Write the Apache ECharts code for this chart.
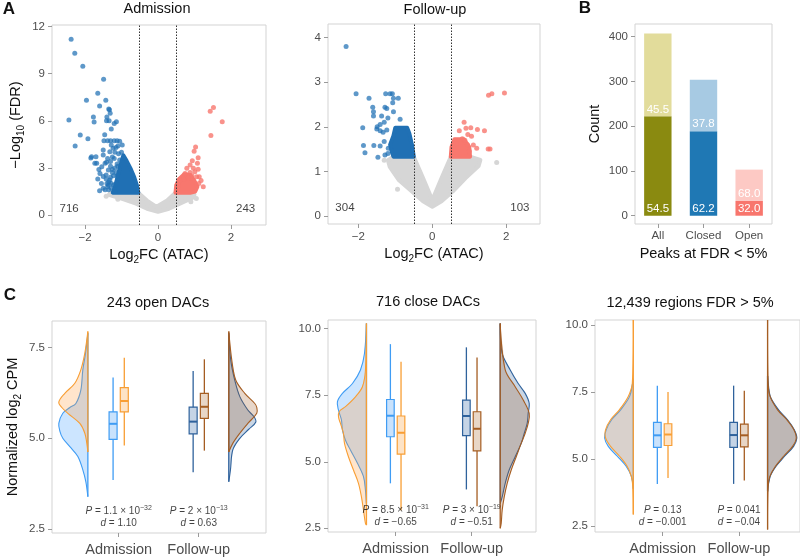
<!DOCTYPE html>
<html>
<head>
<meta charset="utf-8">
<script src="https://cdn.jsdelivr.net/npm/echarts@6.0.0/dist/echarts.min.js"></script>
<style>html,body{margin:0;padding:0;background:#fff;}#chart{width:800px;height:558px;}</style>
</head>
<body>
<div id="chart"></div>
<script>
// ================= DATA =================
// Panel A – volcano plots
const volcanoTitles = ['Admission', 'Follow-up'];
const fcThresholds = [-0.5, 0.5];
const volcanoCounts = [[716, 243], [304, 103]];

// Admission: non-significant cloud outline, dense cores and individual points (log2FC, -log10 FDR)
const admNsCloud = [[-1.3,1.42],[-0.54,1.42],[-0.3,0.92],[-0.04,0.52],[0.25,0.92],[0.48,1.42],[0.88,1.42],[1.0,1.3],[0.97,1.12],[0.6,0.72],[0.3,0.4],[0.0,0.2],[-0.3,0.4],[-0.6,0.72],[-1.0,1.05],[-1.35,1.28]];
const admNsPts = [[-1.42,1.2],[1.05,1.05],[-1.1,1.0],[0.9,0.85]];
const admDownCore = [[-0.54,1.42],[-0.58,1.9],[-0.65,2.4],[-0.74,2.9],[-0.86,3.45],[-0.95,3.8],[-1.0,3.4],[-1.06,2.9],[-1.12,2.3],[-1.18,1.8],[-1.24,1.42]];
const admDownPts = [[-2.38,11.19],[-2.28,10.3],[-2.06,9.47],[-1.49,8.64],[-1.65,7.75],[-1.96,7.3],[-1.43,7.3],[-1.6,6.94],[-1.35,6.75],[-1.33,6.7],[-1.31,6.48],[-1.77,6.24],[-1.4,6.24],[-1.75,5.92],[-1.41,6.0],[-1.34,6.0],[-1.14,5.94],[-1.2,5.82],[-2.44,6.05],[-2.13,5.1],[-1.46,5.11],[-1.28,5.48],[-1.92,4.86],[-1.48,4.73],[-1.38,4.73],[-1.3,4.73],[-1.2,4.73],[-1.12,4.73],[-1.05,4.7],[-2.27,4.39],[-1.5,4.14],[-1.32,4.03],[-1.23,4.25],[-1.15,4.3],[-1.82,3.71],[-1.7,3.71],[-1.84,3.63],[-1.5,3.82],[-1.68,3.29],[-1.73,3.29],[-1.45,3.29],[-1.41,3.36],[-1.3,3.4],[-1.2,3.6],[-1.54,3.08],[-1.36,2.87],[-1.59,2.65],[-1.42,2.55],[-1.25,2.9],[-1.32,2.23],[-1.22,2.5],[-1.15,2.7],[-1.4,2.0],[-1.36,1.91],[-1.22,1.91],[-1.28,1.7],[-1.18,1.49],[-1.45,1.6],[-1.1,3.1],[-1.0,4.0],[-1.08,3.9],[-1.05,3.5],[-1.12,3.25],[-1.18,3.0],[-1.25,2.7],[-1.3,2.4],[-1.35,2.1],[-1.38,1.8],[-1.5,1.7],[-1.55,2.0],[-1.6,1.55],[-1.65,2.3],[-1.3,3.1],[-1.25,3.7],[-1.18,4.0],[-1.1,4.4],[-1.12,2.5],[-1.28,2.0],[-1.35,1.6],[-1.42,2.3],[-1.5,2.45],[-1.62,2.9],[-1.38,3.6],[-1.28,4.45],[-0.98,4.45]];
const admUpCore = [[0.48,1.42],[0.5,1.9],[0.58,2.3],[0.72,2.6],[0.88,2.55],[0.98,2.25],[1.08,1.8],[1.02,1.5],[0.88,1.42]];
const admUpPts = [[1.52,6.84],[1.43,6.6],[1.76,5.94],[1.45,5.07],[1.03,4.33],[0.99,4.06],[1.1,3.65],[0.94,3.46],[1.08,3.29],[0.88,3.18],[0.97,2.97],[0.79,2.97],[1.1,2.91],[1.01,2.76],[0.88,2.7],[0.74,2.65],[1.06,2.44],[1.13,2.44],[0.93,2.5],[0.83,2.35],[0.7,2.3],[1.18,2.2],[1.24,1.8],[0.6,2.2],[1.12,2.0],[0.55,1.9]];

// Follow-up
const fuNsCloud = [[-1.05,1.33],[-0.5,1.33],[-0.25,0.85],[0.0,0.36],[0.25,0.85],[0.5,1.33],[1.02,1.33],[1.3,1.26],[1.25,1.12],[0.9,0.85],[0.55,0.55],[0.25,0.33],[0.0,0.21],[-0.25,0.33],[-0.55,0.55],[-0.9,0.8],[-1.15,1.1],[-1.2,1.25]];
const fuNsPts = [[-0.94,0.6],[1.74,1.2],[-1.3,1.25]];
const fuDownCore = [[-0.5,1.33],[-0.55,1.6],[-0.62,1.85],[-0.68,1.98],[-1.0,1.98],[-1.05,1.8],[-1.14,1.6],[-1.1,1.45],[-1.05,1.33]];
const fuDownPts = [[-2.33,3.8],[-2.06,2.74],[-1.71,2.64],[-1.26,2.74],[-1.14,2.74],[-1.08,2.74],[-0.92,2.64],[-1.05,2.64],[-1.61,2.44],[-1.28,2.44],[-1.23,2.41],[-1.07,2.54],[-1.59,2.34],[-1.05,2.34],[-1.59,2.24],[-1.37,2.24],[-1.2,2.2],[-0.87,2.17],[-1.49,2.0],[-1.41,2.05],[-1.23,1.93],[-1.3,2.1],[-1.88,1.98],[-1.41,1.91],[-1.5,1.95],[-1.33,1.88],[-1.86,1.58],[-1.82,1.42],[-1.58,1.58],[-1.41,1.57],[-1.3,1.67],[-1.19,1.52],[-1.47,1.32],[-1.28,1.37],[-1.2,1.4]];
const fuUpCore = [[0.5,1.33],[0.52,1.55],[0.6,1.72],[0.85,1.72],[1.0,1.55],[1.02,1.33]];
const fuUpPts = [[1.52,2.71],[1.61,2.74],[1.95,2.76],[0.86,2.1],[0.73,1.91],[0.91,1.97],[1.04,1.98],[1.22,1.94],[1.41,1.91],[0.96,1.83],[1.06,1.79],[0.81,1.73],[0.88,1.7],[1.11,1.59],[1.2,1.52],[1.51,1.5],[1.56,1.5],[0.65,1.62],[0.95,1.6],[1.0,1.45]];

// Panel B – stacked bars
const peakCategories = ['All', 'Closed', 'Open'];
const peakLowerCounts = [222, 189, 33];
const peakUpperCounts = [185, 115, 70];
const peakLowerPct = ['54.5', '62.2', '32.0'];
const peakUpperPct = ['45.5', '37.8', '68.0'];

// Panel C – half violins ([log2 CPM, half width]) and boxes ([min, q1, median, q3, max])
const panelCTitles = ['243 open DACs', '716 close DACs', '12,439 regions FDR > 5%'];
const timepoints = ['Admission', 'Follow-up'];

const openAdmBlueViolin = [[3.39,0],[3.8,.025],[4.13,.063],[4.5,.125],[4.77,.225],[5.0,.313],[5.2,.35],[5.41,.363],[5.69,.313],[5.85,.225],[5.96,.15],[6.33,.088],[6.89,.063],[7.35,.029],[7.9,0]];
const openAdmOrangeViolin = [[4.62,0],[4.86,.013],[5.14,.038],[5.41,.1],[5.69,.25],[5.85,.325],[6.0,.363],[6.24,.288],[6.52,.163],[6.89,.088],[7.35,.038],[7.95,0]];
const openFuBlueViolin = [[3.8,0],[4.13,.021],[4.68,.05],[5.0,.138],[5.25,.25],[5.45,.338],[5.6,.313],[5.78,.238],[6.15,.138],[6.6,.075],[7.15,.025],[7.9,0]];
const openFuBrownViolin = [[4.62,0],[4.86,.05],[5.14,.138],[5.41,.238],[5.69,.35],[5.85,.35],[5.96,.325],[6.24,.2],[6.6,.088],[7.15,.038],[7.95,0]];

const closeAdmBlueViolin = [[3.43,0],[3.93,.013],[4.44,.039],[4.94,.118],[5.44,.211],[5.81,.276],[6.19,.316],[6.57,.329],[6.94,.368],[7.26,.382],[7.57,.316],[7.94,.184],[8.45,.079],[9.07,.026],[10.2,0]];
const closeAdmOrangeViolin = [[2.62,0],[2.68,.013],[3.18,.039],[3.68,.066],[4.19,.105],[4.69,.171],[5.19,.237],[5.69,.289],[6.07,.303],[6.44,.342],[6.69,.368],[6.9,.355],[7.07,.276],[7.44,.145],[7.82,.053],[8.45,.013],[10.2,0]];
const closeFuBlueViolin = [[3.43,0],[3.68,.026],[4.19,.066],[4.69,.118],[5.19,.197],[5.69,.276],[6.07,.316],[6.44,.355],[6.82,.368],[7.19,.382],[7.57,.329],[7.94,.237],[8.45,.132],[9.07,.026],[10.2,0]];
const closeFuBrownViolin = [[2.5,0],[2.68,.013],[3.18,.026],[3.68,.053],[4.19,.092],[4.69,.145],[5.19,.211],[5.69,.276],[6.07,.329],[6.44,.368],[6.82,.382],[7.32,.303],[7.82,.197],[8.45,.066],[10.2,0]];

const nsAdmBlueViolin = [[3.9,0],[4.36,.026],[4.73,.092],[5.11,.21],[5.48,.328],[5.79,.376],[6.10,.354],[6.47,.284],[6.84,.166],[7.34,.048],[7.83,.009],[8.0,0]];
const nsAdmOrangeViolin = [[2.94,0],[3.99,.007],[4.36,.026],[4.73,.079],[5.11,.18],[5.48,.298],[5.79,.363],[6.10,.363],[6.47,.298],[6.84,.183],[7.34,.066],[7.83,.013],[10.19,0]];
const nsFuBlueViolin = [[3.8,0],[4.36,.035],[4.73,.109],[5.11,.223],[5.48,.341],[5.79,.384],[6.10,.35],[6.47,.262],[6.84,.144],[7.34,.035],[7.83,.009],[8.1,0]];
const nsFuBrownViolin = [[2.38,0],[3.99,.007],[4.36,.03],[4.73,.101],[5.11,.21],[5.48,.328],[5.79,.376],[6.10,.345],[6.47,.253],[6.84,.131],[7.34,.033],[7.83,.007],[10.19,0]];

const openAdmBlueBox = [3.85, 4.97, 5.40, 5.73, 6.68];
const openAdmOrangeBox = [4.80, 5.73, 6.03, 6.40, 7.22];
const openFuBlueBox = [4.06, 5.12, 5.46, 5.86, 6.86];
const openFuBrownBox = [4.66, 5.55, 5.87, 6.24, 7.18];
const closeAdmBlueBox = [4.19, 5.94, 6.73, 7.34, 9.42];
const closeAdmOrangeBox = [3.18, 5.29, 6.09, 6.72, 8.76];
const closeFuBlueBox = [3.96, 5.98, 6.72, 7.32, 9.30];
const closeFuBrownBox = [3.33, 5.41, 6.24, 6.88, 8.92];
const nsAdmBlueBox = [4.08, 5.44, 5.89, 6.37, 7.74];
const nsAdmOrangeBox = [4.30, 5.51, 5.92, 6.32, 7.50];
const nsFuBlueBox = [4.08, 5.44, 5.90, 6.37, 7.74];
const nsFuBrownBox = [4.21, 5.46, 5.89, 6.31, 7.55];

// test statistics: [P mantissa text, P exponent, Cohen's d]
const openStats = [['1.1 × 10', '−32', '1.10'], ['2 × 10', '−13', '0.63']];
const closeStats = [['8.5 × 10', '−31', '−0.65'], ['3 × 10', '−19', '−0.51']];
const nsStats = [['0.13', '', '−0.001'], ['0.041', '', '−0.04']];

// ================= STYLE / LAYOUT =================
const FONT = '"Liberation Sans", Arial, Helvetica, sans-serif';
const TICK = '#9a9a9a', LAB = '#4d4d4d', BORDER = '#d3d3d3', INK = '#111111';
const C_NS = '#d6d6d6', C_DOWN = '#2070b4', C_UP = '#f8776e';
const COL = {
  admBlue:  {stroke: '#3f9cf4', fill: 'rgba(51,153,255,0.25)', box: '#c9e2fc'},
  admOrange:{stroke: '#f89e34', fill: 'rgba(255,153,51,0.25)', box: '#fde3c6'},
  fuBlue:   {stroke: '#2f629c', fill: 'rgba(40,90,150,0.25)', box: '#c5d4e6'},
  fuBrown:  {stroke: '#a55d22', fill: 'rgba(160,90,40,0.25)', box: '#e8d6c6'}
};
const barLowerColors = ['#8a8a10', '#1f78b4', '#f8766d'];
const barUpperColors = ['#e2dc9b', '#a7cae3', '#fdc9c4'];
const VIOLIN_EDGE = [0.615, 2.375];
const BOX_OFF = 0.07, BOX_W = 0.1;

const gridBase = {show: true, borderColor: BORDER, borderWidth: 1, backgroundColor: '#fff', containLabel: false, outerBoundsMode: 'none'};
const grids = [
  {left: 52, top: 25, width: 214, height: 200},
  {left: 328, top: 24, width: 212, height: 200},
  {left: 635, top: 24, width: 137, height: 200},
  {left: 52, top: 321, width: 214, height: 212},
  {left: 328, top: 320, width: 208, height: 212},
  {left: 595, top: 320, width: 205, height: 212}
].map(g => Object.assign({}, gridBase, g));

const xRanges = [[-2.904, 2.959], [-2.819, 2.911], null, [0.167, 2.84], [0.109, 2.846], [0.113, 2.80]];
const yRanges = [[-0.637, 12.10], [-0.179, 4.305], [-18.5, 428.4], [2.387, 8.237], [2.361, 10.327], [2.288, 10.186]];

function minus(v) { return v < 0 ? '\u2212' + Math.abs(v) : String(v); }
const nameStyle = {fontSize: 14.5, color: INK, fontFamily: FONT, lineHeight: 20,
  rich: {s: {fontSize: 10, lineHeight: 10, verticalAlign: 'bottom', color: INK, fontFamily: FONT}}};

function vAxis(gi, range, ticks, fmt, extra) {
  return Object.assign({
    type: 'value', gridIndex: gi, min: range[0], max: range[1],
    splitLine: {show: false}, axisLine: {show: false, onZero: false},
    axisTick: {show: true, length: 4, lineStyle: {color: TICK, width: 1}, customValues: ticks},
    axisLabel: {color: LAB, fontSize: 11.5, fontFamily: FONT, margin: 7, customValues: ticks, formatter: fmt}
  }, extra || {});
}

const xAxes = [
  vAxis(0, xRanges[0], [-2, 0, 2], minus, {name: 'Log{s|2}FC (ATAC)', nameLocation: 'middle', nameGap: 12, nameTextStyle: nameStyle}),
  vAxis(1, xRanges[1], [-2, 0, 2], minus, {name: 'Log{s|2}FC (ATAC)', nameLocation: 'middle', nameGap: 12, nameTextStyle: nameStyle}),
  {type: 'category', gridIndex: 2, data: peakCategories, axisLine: {show: false, onZero: false},
   axisTick: {show: true, alignWithLabel: true, length: 4, lineStyle: {color: TICK}},
   axisLabel: {color: LAB, fontSize: 11.5, fontFamily: FONT, margin: 6, interval: 0, hideOverlap: false},
   name: 'Peaks at FDR < 5%', nameLocation: 'middle', nameGap: 20, nameTextStyle: nameStyle},
  ...[3, 4, 5].map(gi => vAxis(gi, xRanges[gi], [1, 2], v => timepoints[Math.round(v) - 1],
     {axisLabel: {color: LAB, fontSize: 14.5, fontFamily: FONT, margin: 9, customValues: [1, 2], formatter: v => timepoints[Math.round(v) - 1]}}))
];
const fmt1 = v => v.toFixed(1);
const yAxes = [
  vAxis(0, yRanges[0], [0, 3, 6, 9, 12], minus, {name: '\u2212Log{s|10} (FDR)', nameLocation: 'middle', nameGap: 26, nameTextStyle: nameStyle}),
  vAxis(1, yRanges[1], [0, 1, 2, 3, 4], minus),
  vAxis(2, yRanges[2], [0, 100, 200, 300, 400], String, {name: 'Count', nameLocation: 'middle', nameGap: 30, nameTextStyle: nameStyle}),
  vAxis(3, yRanges[3], [2.5, 5, 7.5], fmt1, {name: 'Normalized log{s|2} CPM', nameLocation: 'middle', nameGap: 29, nameTextStyle: nameStyle}),
  vAxis(4, yRanges[4], [2.5, 5, 7.5, 10], fmt1),
  vAxis(5, yRanges[5], [2.5, 5, 7.5, 10], fmt1)
];

// ================= SERIES BUILDERS =================
function polySeries(gi, pts, color) {
  return {type: 'custom', xAxisIndex: gi, yAxisIndex: gi, silent: true, clip: true, data: [pts[0]],
    renderItem: (params, api) => ({type: 'polygon', shape: {points: pts.map(p => api.coord(p))},
      style: {fill: color, stroke: color, lineWidth: 4, lineJoin: 'round'}})};
}
function ptsSeries(gi, pts, color, opacity) {
  return {type: 'scatter', xAxisIndex: gi, yAxisIndex: gi, silent: true, data: pts, symbolSize: 5,
    itemStyle: {color: color, opacity: opacity}};
}
function volcanoSeries(gi, ns, nsPts, downCore, downPts, upCore, upPts, counts) {
  const xr = xRanges[gi], yr = yRanges[gi];
  const w = xr[1] - xr[0], h = yr[1] - yr[0];
  const labelY = yr[0] + 0.08 * h;
  return [
    polySeries(gi, ns, C_NS),
    ptsSeries(gi, nsPts, C_NS, 1),
    polySeries(gi, downCore, C_DOWN),
    ptsSeries(gi, downPts, C_DOWN, 0.72),
    polySeries(gi, upCore, C_UP),
    ptsSeries(gi, upPts, C_UP, 0.8),
    {type: 'scatter', xAxisIndex: gi, yAxisIndex: gi, silent: true, symbolSize: 0,
     itemStyle: {color: 'rgba(0,0,0,0)'},
     data: [[xr[0] + 0.08 * w, labelY, counts[0]], [xr[1] - 0.095 * w, labelY, counts[1]]],
     label: {show: true, position: 'inside', formatter: p => String(p.value[2]), color: INK, fontSize: 11.5, fontFamily: FONT},
     markLine: {silent: true, symbol: 'none', label: {show: false},
       lineStyle: {type: [1.5, 1.5], color: '#333', width: 1},
       data: fcThresholds.map(v => ({xAxis: v}))}}
  ];
}
function violinSeries(gi, edge, dir, vio, c) {
  return {type: 'custom', xAxisIndex: gi, yAxisIndex: gi, silent: true, clip: true, data: [[edge, vio[0][0]]],
    renderItem: (params, api) => {
      const pts = vio.map(p => api.coord([edge + dir * p[1], p[0]]));
      const e0 = api.coord([edge, vio[0][0]]), e1 = api.coord([edge, vio[vio.length - 1][0]]);
      return {type: 'group', children: [
        {type: 'polygon', shape: {points: pts}, style: {fill: c.fill, stroke: 'none'}},
        {type: 'polyline', shape: {points: pts, smooth: 0.35}, style: {stroke: c.stroke, lineWidth: 1.1, fill: 'none'}},
        {type: 'line', shape: {x1: e0[0], y1: e0[1], x2: e1[0], y2: e1[1]}, style: {stroke: c.stroke, lineWidth: 1.3}}
      ]};
    }};
}
function boxSeries(gi, boxes, cols) {
  const xs = [1 - BOX_OFF, 1 + BOX_OFF, 2 - BOX_OFF, 2 + BOX_OFF];
  return {type: 'custom', xAxisIndex: gi, yAxisIndex: gi, silent: true,
    data: boxes.map((b, i) => [xs[i]].concat(b)),
    renderItem: (params, api) => {
      const c = cols[params.dataIndex];
      const x = api.value(0), lo = api.value(1), q1 = api.value(2), md = api.value(3), q3 = api.value(4), hi = api.value(5);
      const pLo = api.coord([x, lo]), pHi = api.coord([x, hi]);
      const a = api.coord([x - BOX_W / 2, q3]), b = api.coord([x + BOX_W / 2, q1]);
      const m1 = api.coord([x - BOX_W / 2, md]), m2 = api.coord([x + BOX_W / 2, md]);
      return {type: 'group', children: [
        {type: 'line', shape: {x1: pLo[0], y1: pLo[1], x2: pHi[0], y2: pHi[1]}, style: {stroke: c.stroke, lineWidth: 1.3}},
        {type: 'rect', shape: {x: a[0], y: a[1], width: b[0] - a[0], height: b[1] - a[1]}, style: {fill: c.box, stroke: c.stroke, lineWidth: 1.2}},
        {type: 'line', shape: {x1: m1[0], y1: m1[1], x2: m2[0], y2: m2[1]}, style: {stroke: c.stroke, lineWidth: 2}}
      ]};
    }};
}
function statSeries(gi, stats) {
  const yr = yRanges[gi];
  const y = yr[0] + 0.075 * (yr[1] - yr[0]);
  return {type: 'scatter', xAxisIndex: gi, yAxisIndex: gi, silent: true, symbolSize: 0,
    itemStyle: {color: 'rgba(0,0,0,0)'},
    data: stats.map((s, i) => [i + 1, y]),
    label: {show: true, position: 'inside', align: 'center',
      formatter: p => {
        const s = stats[p.dataIndex];
        return '{i|P}{t| = ' + s[0] + '}' + (s[1] ? '{s|' + s[1] + '}' : '') + '\n{i|d}{t| = ' + s[2] + '}';
      },
      rich: {
        i: {fontStyle: 'italic', fontSize: 10, lineHeight: 12.5, color: INK, fontFamily: FONT},
        t: {fontSize: 10, lineHeight: 12.5, color: INK, fontFamily: FONT},
        s: {fontSize: 7, lineHeight: 6, verticalAlign: 'top', color: INK, fontFamily: FONT}
      }}};
}
function panelC(gi, v, boxes, stats) {
  return [
    violinSeries(gi, VIOLIN_EDGE[0], -1, v[0], COL.admBlue),
    violinSeries(gi, VIOLIN_EDGE[0], -1, v[1], COL.admOrange),
    violinSeries(gi, VIOLIN_EDGE[1], 1, v[2], COL.fuBlue),
    violinSeries(gi, VIOLIN_EDGE[1], 1, v[3], COL.fuBrown),
    boxSeries(gi, boxes, [COL.admBlue, COL.admOrange, COL.fuBlue, COL.fuBrown]),
    statSeries(gi, stats)
  ];
}

const barSeries = [
  {type: 'bar', xAxisIndex: 2, yAxisIndex: 2, stack: 'peaks', barWidth: '60%', silent: true,
   data: peakLowerCounts.map((v, i) => ({value: v, itemStyle: {color: barLowerColors[i]}})),
   label: {show: true, position: 'insideBottom', distance: 1, color: '#fff', fontSize: 11.5, fontFamily: FONT,
     formatter: p => peakLowerPct[p.dataIndex]}},
  {type: 'bar', xAxisIndex: 2, yAxisIndex: 2, stack: 'peaks', barWidth: '60%', silent: true,
   data: peakUpperCounts.map((v, i) => ({value: v, itemStyle: {color: barUpperColors[i]}})),
   label: {show: true, position: 'insideBottom', distance: 1, color: '#fff', fontSize: 11.5, fontFamily: FONT,
     formatter: p => peakUpperPct[p.dataIndex]}}
];

const series = [].concat(
  volcanoSeries(0, admNsCloud, admNsPts, admDownCore, admDownPts, admUpCore, admUpPts, volcanoCounts[0]),
  volcanoSeries(1, fuNsCloud, fuNsPts, fuDownCore, fuDownPts, fuUpCore, fuUpPts, volcanoCounts[1]),
  barSeries,
  panelC(3, [openAdmBlueViolin, openAdmOrangeViolin, openFuBlueViolin, openFuBrownViolin],
    [openAdmBlueBox, openAdmOrangeBox, openFuBlueBox, openFuBrownBox], openStats),
  panelC(4, [closeAdmBlueViolin, closeAdmOrangeViolin, closeFuBlueViolin, closeFuBrownViolin],
    [closeAdmBlueBox, closeAdmOrangeBox, closeFuBlueBox, closeFuBrownBox], closeStats),
  panelC(5, [nsAdmBlueViolin, nsAdmOrangeViolin, nsFuBlueViolin, nsFuBrownViolin],
    [nsAdmBlueBox, nsAdmOrangeBox, nsFuBlueBox, nsFuBrownBox], nsStats)
);

function txt(x, y, text, size, weight) {
  return {type: 'text', x: x, y: y, silent: true,
    style: {text: text, fill: INK, font: (weight || 'normal') + ' ' + size + 'px ' + FONT, align: 'center', verticalAlign: 'middle'}};
}
const graphics = [
  txt(9, 9, 'A', 17, 'bold'), txt(585, 8, 'B', 17, 'bold'), txt(10, 295, 'C', 17, 'bold'),
  txt(157, 9, volcanoTitles[0], 14.5), txt(435, 10, volcanoTitles[1], 14.5),
  txt(158, 303, panelCTitles[0], 14.5), txt(428, 302, panelCTitles[1], 14.5), txt(690, 303, panelCTitles[2], 14.5)
];

const chart = echarts.init(document.getElementById('chart'), null, {renderer: 'canvas'});
chart.setOption({
  animation: false,
  backgroundColor: '#fff',
  textStyle: {fontFamily: FONT},
  grid: grids,
  xAxis: xAxes,
  yAxis: yAxes,
  series: series,
  graphic: graphics
});
</script>
</body>
</html>
